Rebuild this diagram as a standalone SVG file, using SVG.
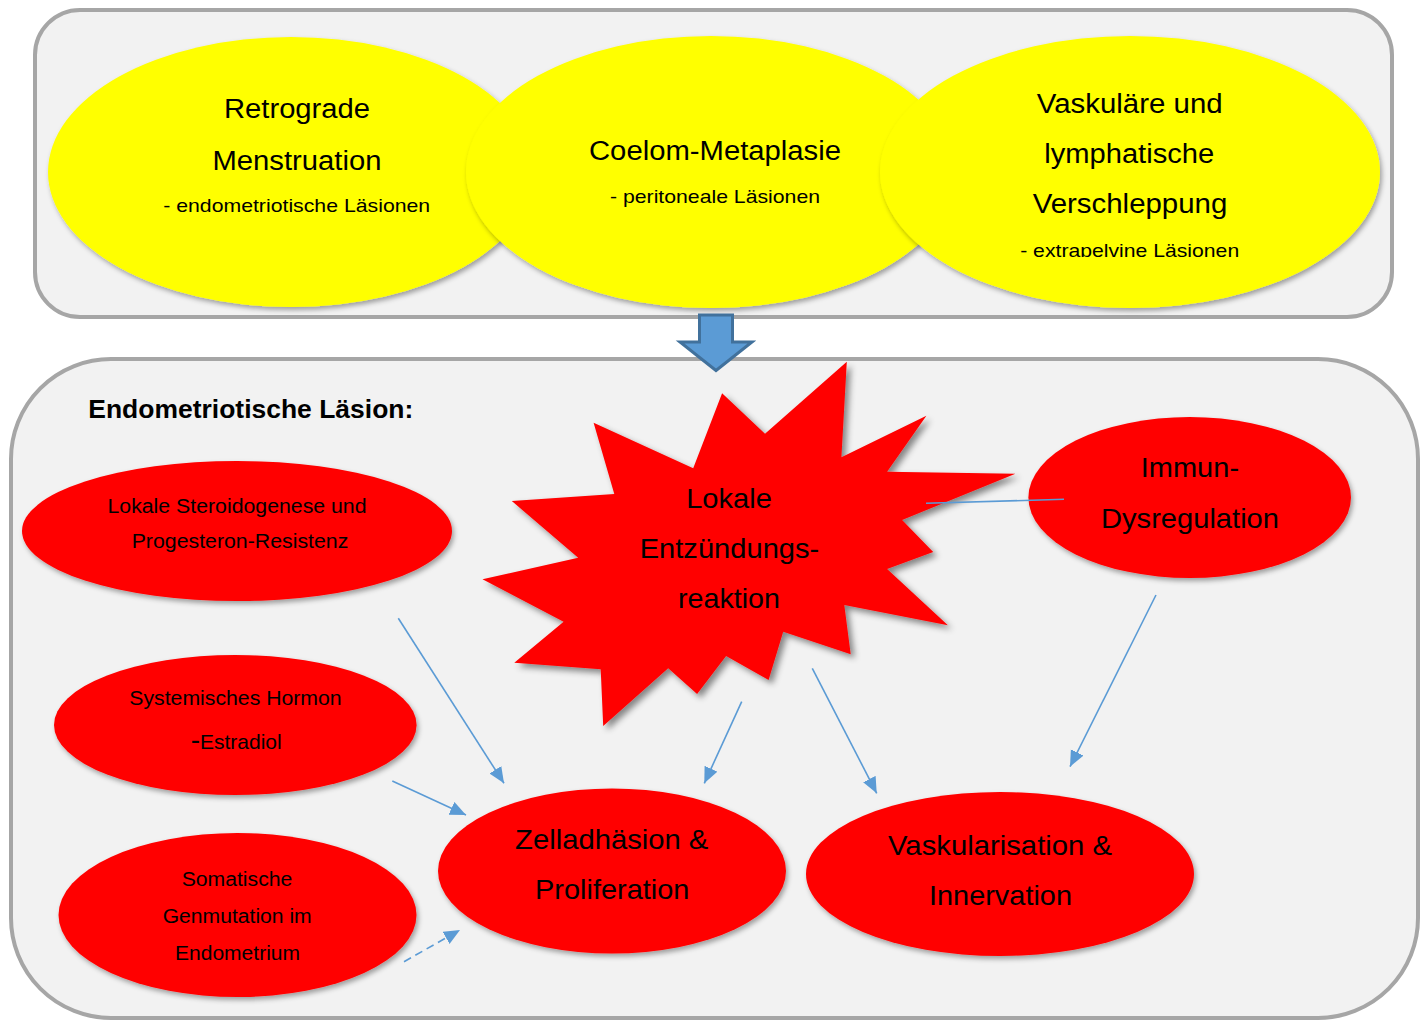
<svg xmlns="http://www.w3.org/2000/svg" width="1424" height="1021" viewBox="0 0 1424 1021">
<defs>
<style>
.box{fill:#F2F2F2;stroke:#A6A6A6;stroke-width:4}
.yel{fill:#FFFF00}
.red{fill:#FF0000}
text{font-family:"Liberation Sans",Arial,sans-serif;fill:#000;text-anchor:middle}
.t27{font-size:27px}
.t19{font-size:19px}
.t20{font-size:20px}
.t28{font-size:28px}
.hd{font-size:26px;font-weight:bold;text-anchor:start}
.con{fill:none;stroke:#5B9BD5;stroke-width:1.6}
</style>
<filter id="sh" x="-10%" y="-10%" width="125%" height="130%">
<feDropShadow dx="2" dy="3" stdDeviation="2.5" flood-color="#000" flood-opacity="0.35"/>
</filter>
<filter id="shs" x="-10%" y="-10%" width="125%" height="125%">
<feDropShadow dx="4" dy="4" stdDeviation="3" flood-color="#000" flood-opacity="0.45"/>
</filter>
<marker id="ah" markerUnits="userSpaceOnUse" markerWidth="18" markerHeight="16" refX="16" refY="7" orient="auto">
<path d="M0,0 L16,7 L0,14 Z" fill="#5B9BD5"/>
</marker>
<clipPath id="clipV"><rect x="880" y="230" width="500" height="27"/></clipPath>
</defs>

<g id="box-top"><rect class="box" x="35" y="10" width="1357" height="307" rx="45" ry="45"/></g>
<g id="box-bottom"><rect class="box" x="11" y="359" width="1407" height="659" rx="100" ry="100"/></g>

<g id="node-retrograde">
<ellipse class="yel" filter="url(#sh)" cx="291" cy="172" rx="243" ry="135"/>
<text class="t27" x="297" y="117.5" textLength="146" lengthAdjust="spacingAndGlyphs">Retrograde</text>
<text class="t27" x="297" y="169.5" textLength="169" lengthAdjust="spacingAndGlyphs">Menstruation</text>
<text class="t19" x="296.7" y="211.7" textLength="267" lengthAdjust="spacingAndGlyphs">- endometriotische Läsionen</text>
</g>

<g id="node-coelom">
<ellipse class="yel" filter="url(#sh)" cx="711" cy="172" rx="245" ry="136"/>
<text class="t27" x="715" y="160" textLength="252" lengthAdjust="spacingAndGlyphs">Coelom-Metaplasie</text>
<text class="t19" x="715" y="203" textLength="210" lengthAdjust="spacingAndGlyphs">- peritoneale Läsionen</text>
</g>

<g id="node-vaskulaer">
<ellipse class="yel" filter="url(#sh)" cx="1130" cy="172" rx="250" ry="136"/>
<text class="t27" x="1129.7" y="113.3" textLength="186" lengthAdjust="spacingAndGlyphs">Vaskuläre und</text>
<text class="t27" x="1129.2" y="163.3" textLength="170" lengthAdjust="spacingAndGlyphs">lymphatische</text>
<text class="t27" x="1130" y="213.3" textLength="194.7" lengthAdjust="spacingAndGlyphs">Verschleppung</text>
<text class="t19" x="1129.7" y="257" textLength="219" lengthAdjust="spacingAndGlyphs" clip-path="url(#clipV)">- extrapelvine Läsionen</text>
</g>

<g id="label-heading">
<text class="hd" x="88.3" y="417.7" textLength="325" lengthAdjust="spacingAndGlyphs">Endometriotische Läsion:</text>
</g>

<g id="node-entzuendung">
<polygon class="red" filter="url(#shs)" points="846.8,361.7 841.4,457.3 926.4,415.7 887.1,471.7 1015.4,473.7 902.1,520 933.2,552 887.1,569 947.9,625.3 844.3,605 850.7,654.3 783.2,631.7 768.6,680 726.1,656 697.1,694 668.2,668.3 603.2,726 600.7,669.3 514.3,662.7 563.6,621.7 482.5,579.3 578.2,557.7 511.8,501 614.3,494 593.6,422.7 693.2,468.3 722.1,393.3 765,433.7"/>
<text class="t28" x="729" y="508.3" textLength="85.7" lengthAdjust="spacingAndGlyphs">Lokale</text>
<text class="t28" x="729.5" y="558.3" textLength="179.6" lengthAdjust="spacingAndGlyphs">Entzündungs-</text>
<text class="t28" x="729" y="608.3" textLength="102" lengthAdjust="spacingAndGlyphs">reaktion</text>
</g>

<g id="node-steroid">
<ellipse class="red" filter="url(#sh)" cx="237" cy="531" rx="215" ry="70"/>
<text class="t20" x="237" y="512.7" textLength="259" lengthAdjust="spacingAndGlyphs">Lokale Steroidogenese und</text>
<text class="t20" x="240" y="548.3" textLength="216.7" lengthAdjust="spacingAndGlyphs">Progesteron-Resistenz</text>
</g>

<g id="node-immun">
<ellipse class="red" filter="url(#sh)" cx="1189.7" cy="497.5" rx="161.3" ry="80.5"/>
<text class="t28" x="1189.9" y="477.3" textLength="98.3" lengthAdjust="spacingAndGlyphs">Immun-</text>
<text class="t28" x="1190" y="528.3" textLength="178" lengthAdjust="spacingAndGlyphs">Dysregulation</text>
</g>

<g id="node-hormon">
<ellipse class="red" filter="url(#sh)" cx="235.3" cy="725" rx="181.3" ry="70"/>
<text class="t20" x="235.5" y="705" textLength="212.3" lengthAdjust="spacingAndGlyphs">Systemisches Hormon</text>
<text x="236.2" y="749.3" style="font-size:21px"><tspan style="font-size:28px">-</tspan>Estradiol</text>
</g>

<g id="node-somatisch">
<ellipse class="red" filter="url(#sh)" cx="237.5" cy="915" rx="179" ry="82"/>
<text class="t20" x="237" y="886" textLength="110.7" lengthAdjust="spacingAndGlyphs">Somatische</text>
<text class="t20" x="237.2" y="923.3" textLength="149" lengthAdjust="spacingAndGlyphs">Genmutation im</text>
<text class="t20" x="237.5" y="960" textLength="125" lengthAdjust="spacingAndGlyphs">Endometrium</text>
</g>

<g id="node-zelladhaesion">
<ellipse class="red" filter="url(#sh)" cx="612" cy="871" rx="174" ry="82.5"/>
<text class="t28" x="611.7" y="849.3" textLength="193.3" lengthAdjust="spacingAndGlyphs">Zelladhäsion &amp;</text>
<text class="t28" x="612.2" y="899.3" textLength="154.3" lengthAdjust="spacingAndGlyphs">Proliferation</text>
</g>

<g id="node-vaskularisation">
<ellipse class="red" filter="url(#sh)" cx="1000" cy="874" rx="194" ry="82"/>
<text class="t28" x="1000" y="855" textLength="224" lengthAdjust="spacingAndGlyphs">Vaskularisation &amp;</text>
<text class="t28" x="1000.5" y="905" textLength="143" lengthAdjust="spacingAndGlyphs">Innervation</text>
</g>

<g id="connectors">
<line class="con" x1="926" y1="503.3" x2="1064" y2="499.3"/>
<line class="con" x1="398.3" y1="618.3" x2="504" y2="783.3" marker-end="url(#ah)"/>
<line class="con" x1="392.3" y1="781" x2="466" y2="815" marker-end="url(#ah)"/>
<line class="con" x1="741.7" y1="701.7" x2="704.3" y2="783.3" marker-end="url(#ah)"/>
<line class="con" x1="404" y1="961.7" x2="460" y2="930" stroke-dasharray="8,5" marker-end="url(#ah)"/>
<line class="con" x1="812.3" y1="668.3" x2="876.7" y2="793.3" marker-end="url(#ah)"/>
<line class="con" x1="1156" y1="595" x2="1070" y2="766.7" marker-end="url(#ah)"/>
</g>

<g id="arrow-down">
<polygon points="699.5,315 732.5,315 732.5,342 752,342 716,370.5 680,342 699.5,342" fill="#5B9BD5" stroke="#41719C" stroke-width="3" stroke-linejoin="miter"/>
</g>
</svg>
